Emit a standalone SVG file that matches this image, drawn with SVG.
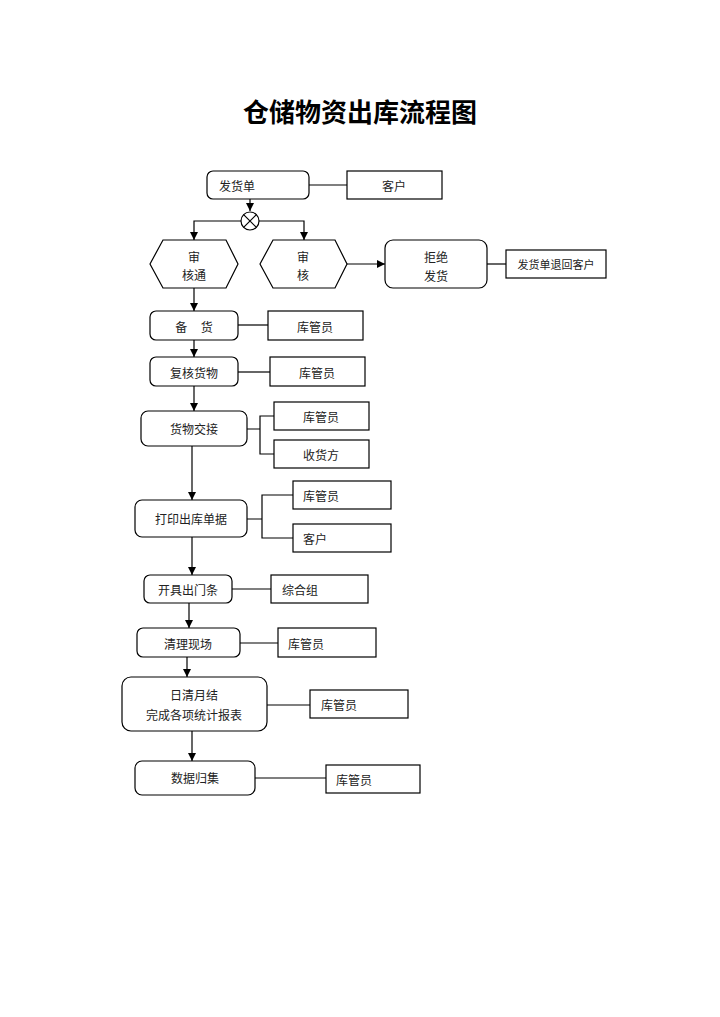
<svg xmlns="http://www.w3.org/2000/svg" width="720" height="1017" viewBox="0 0 720 1017">
<defs>
<marker id="ar" viewBox="0 0 10 10" refX="10" refY="5" markerWidth="7" markerHeight="7" orient="auto"><path d="M0,0L10,5L0,10z" fill="#000"/></marker>
<style>
rect,polygon,circle{fill:#fff;stroke:#000;stroke-width:1.2}
rect.bg{stroke:none}
.c path,.c line{stroke:#000;stroke-width:1.2;fill:none}
text{font-family:"Noto Sans CJK SC",sans-serif;font-size:12px;fill:#222;text-anchor:middle;dominant-baseline:central}
.t{font-size:26px;font-weight:bold;fill:#000}
</style>
</defs>
<rect class="bg" x="0" y="0" width="720" height="1017"/>
<text class="t" x="360" y="110">仓储物资出库流程图</text>
<g class="c">
<line x1="309" y1="185" x2="347" y2="185"/>
<line x1="250" y1="199" x2="250" y2="211" marker-end="url(#ar)"/>
<path d="M241,221H194V240" marker-end="url(#ar)"/>
<path d="M259,221H304V240" marker-end="url(#ar)"/>
<line x1="347" y1="264" x2="385" y2="264" marker-end="url(#ar)"/>
<line x1="487" y1="264" x2="506" y2="264"/>
<line x1="194" y1="288" x2="194" y2="311" marker-end="url(#ar)"/>
<line x1="238" y1="325" x2="268" y2="325"/>
<line x1="194" y1="340" x2="194" y2="357" marker-end="url(#ar)"/>
<line x1="238" y1="372" x2="270" y2="372"/>
<line x1="194" y1="386" x2="194" y2="411" marker-end="url(#ar)"/>
<path d="M247,429H260M274,416H260V454H274"/>
<line x1="192" y1="446" x2="192" y2="500" marker-end="url(#ar)"/>
<path d="M247,519H262M293,495H262V538H293"/>
<line x1="192" y1="537" x2="192" y2="575" marker-end="url(#ar)"/>
<line x1="232" y1="589" x2="271" y2="589"/>
<line x1="189" y1="603" x2="189" y2="628" marker-end="url(#ar)"/>
<line x1="240" y1="643" x2="278" y2="643"/>
<line x1="187" y1="657" x2="187" y2="677" marker-end="url(#ar)"/>
<line x1="267" y1="705" x2="310" y2="705"/>
<line x1="192" y1="731" x2="192" y2="761" marker-end="url(#ar)"/>
<line x1="255" y1="778" x2="326" y2="778"/>
</g>
<g id="n1"><rect x="207" y="171" width="102" height="28" rx="6"/><text x="237" y="185">发货单</text></g>
<g id="n2"><rect x="347" y="171" width="95" height="28"/><text x="394" y="185">客户</text></g>
<g id="gate"><circle cx="250" cy="221" r="9"/><path d="M243.6,214.6L256.4,227.4M256.4,214.6L243.6,227.4" stroke="#000" stroke-width="1.2"/></g>
<g id="h1"><polygon points="150,264 163,240 226,240 238,264 226,288 163,288"/><text x="194" y="256">审</text><text x="194" y="274">核通</text></g>
<g id="h2"><polygon points="260,264 273,240 335,240 347,264 335,288 273,288"/><text x="303" y="256">审</text><text x="303" y="274">核</text></g>
<g id="n3"><rect x="385" y="240" width="102" height="48" rx="8"/><text x="436" y="256">拒绝</text><text x="436" y="275">发货</text></g>
<g id="n4"><rect x="506" y="250" width="100" height="28"/><text x="556" y="264" style="font-size:11px">发货单退回客户</text></g>
<g id="n5"><rect x="150" y="311" width="88" height="29" rx="6"/><text x="194" y="326" xml:space="preserve">备     货</text></g>
<g id="n6"><rect x="268" y="311" width="95" height="29"/><text x="315" y="326">库管员</text></g>
<g id="n7"><rect x="150" y="357" width="88" height="29" rx="6"/><text x="194" y="372">复核货物</text></g>
<g id="n8"><rect x="270" y="357" width="95" height="29"/><text x="317" y="372">库管员</text></g>
<g id="n9"><rect x="141" y="411" width="106" height="35" rx="7"/><text x="194" y="428">货物交接</text></g>
<g id="n10"><rect x="274" y="402" width="95" height="28"/><text x="321" y="416">库管员</text></g>
<g id="n11"><rect x="274" y="440" width="95" height="28"/><text x="321" y="454">收货方</text></g>
<g id="n12"><rect x="135" y="500" width="112" height="37" rx="7"/><text x="191" y="518">打印出库单据</text></g>
<g id="n13"><rect x="293" y="481" width="98" height="28"/><text x="321" y="495">库管员</text></g>
<g id="n14"><rect x="293" y="524" width="98" height="28"/><text x="315" y="538">客户</text></g>
<g id="n15"><rect x="144" y="575" width="88" height="28" rx="6"/><text x="188" y="589">开具出门条</text></g>
<g id="n16"><rect x="271" y="575" width="97" height="28"/><text x="300" y="589">综合组</text></g>
<g id="n17"><rect x="137" y="628" width="103" height="29" rx="6"/><text x="188" y="643">清理现场</text></g>
<g id="n18"><rect x="278" y="628" width="98" height="29"/><text x="306" y="643">库管员</text></g>
<g id="n19"><rect x="122" y="677" width="145" height="54" rx="9"/><text x="194" y="694">日清月结</text><text x="194" y="714">完成各项统计报表</text></g>
<g id="n20"><rect x="310" y="690" width="98" height="28"/><text x="339" y="704">库管员</text></g>
<g id="n21"><rect x="135" y="761" width="120" height="34" rx="7"/><text x="195" y="777">数据归集</text></g>
<g id="n22"><rect x="326" y="765" width="94" height="28"/><text x="354" y="779">库管员</text></g>
</svg>
